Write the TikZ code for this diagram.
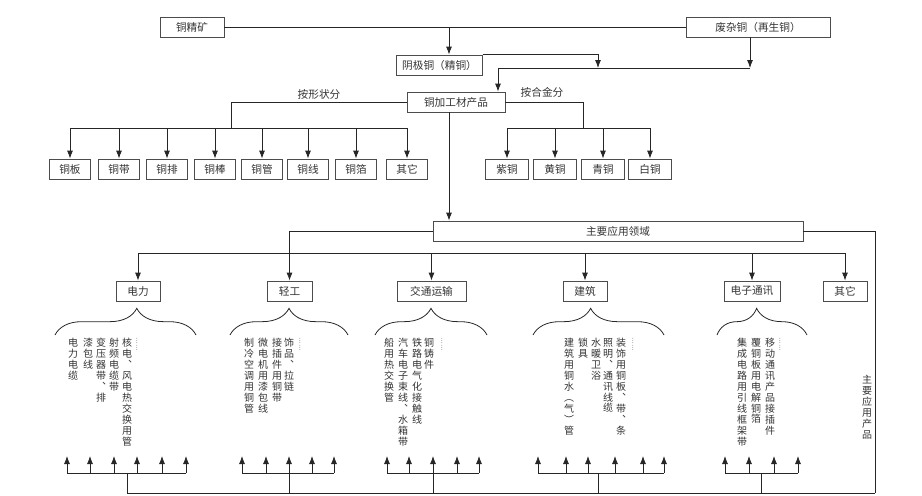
\documentclass[tikz,border=0pt]{standalone}
\usepackage{fontspec}
\setmainfont{Noto Sans CJK SC}
\usetikzlibrary{arrows.meta,decorations.pathreplacing}
\makeatletter
% stack the characters of #1 one under another
\newcommand{\shu}[1]{\edef\shu@l{#1}\def\shu@s{}\expandafter\shu@do\shu@l\relax}
\def\shu@do#1{\ifx#1\relax\else\shu@s#1\def\shu@s{\\}\expandafter\shu@do\fi}
\makeatother

\begin{document}
\begin{tikzpicture}[x=0.75pt,y=-0.75pt,color=black!85,line width=0.6pt,
        every node/.style={font=\fontsize{8}{9}\selectfont, text=black!80},
        kuang/.style={draw=black!70, inner sep=0pt, minimum height=15pt},
        jian/.style={-{Latex[length=6pt,width=4.5pt]}},
        lie/.style={anchor=north, inner sep=0pt, align=center,
            font=\fontsize{7.5}{8.2}\selectfont},
        dian/.style={anchor=north, inner sep=0pt, align=center,
            font=\fontsize{5}{5.2}\selectfont},
        kuohao/.style={decorate, decoration={brace, amplitude=20pt, aspect=#1}}]
    \useasboundingbox (0,0) rectangle (922,496);

    % raw material
    \node[kuang, minimum width=48pt] (kuang) at (192,27) {铜精矿};
    \node[kuang, minimum width=108pt] (feiza) at (758,27) {废杂铜（再生铜）};
    \node[kuang, minimum width=64pt] (yinji) at (439.5,65) {阴极铜（精铜）};
    \node[kuang, minimum width=73.5pt] (jiagong) at (456,102) {铜加工材产品};
    \coordinate (a1) at (449,27);
    \coordinate (hl) at (498,68);
    \coordinate (h2) at (598,68);
    \coordinate (hr) at (750,68);
    \draw (kuang) -- (feiza);
    \draw[jian] (a1) -- (a1 |- yinji.north);
    \draw[jian] (yinji.north east) -| (h2);
    \draw[jian] (feiza.south -| hr) -- (hr);
    \draw (hl) -- (hr);
    \draw[jian] (hl) -- (hl |- jiagong.north);

    % by shape
    \node (xingzhuang) at (319,94) {按形状分};
    \coordinate (s0) at (231,128);
    \draw (jiagong.west) -| (s0);
    \foreach \x/\txt [count=\i] in {70/铜板,119/铜带,167/铜排,215/铜棒,262/铜管,308/铜线,356/铜箔,407/其它}{
        \node[kuang, minimum width=30.75pt] (xz\i) at (\x,169) {\txt};
        \draw[jian] (xz\i.north |- s0) -- (xz\i.north);
    }
    \draw (xz1.north |- s0) -- (xz8.north |- s0);

    % by alloy
    \node (hejin) at (542,92) {按合金分};
    \coordinate (s1) at (583,128);
    \draw (jiagong.east) -| (s1);
    \foreach \x/\txt [count=\i] in {507/紫铜,555/黄铜,603/青铜,650/白铜}{
        \node[kuang, minimum width=32.25pt] (hj\i) at (\x,169) {\txt};
        \draw[jian] (hj\i.north |- s1) -- (hj\i.north);
    }
    \draw (hj1.north |- s1) -- (hj4.north |- s1);

    % fields of use
    \node[kuang, minimum width=277.5pt] (lingyu) at (618,231) {主要应用领域};
    \coordinate (m) at (449,112);
    \draw[jian] (m) -- (m |- lingyu.north);
    \coordinate (s2) at (137,253);
    \foreach \x/\w/\txt [count=\i] in {138/33/电力,289.5/33.75/轻工,431.5/51.75/交通运输,585/33/建筑,752/42/电子通讯,845/33/其它}{
        \node[kuang, minimum width=\w pt] (yy\i) at (\x,291) {\txt};
    }
    \foreach \i in {1,3,4,5,6}
        \draw[jian] (yy\i.north |- s2) -- (yy\i.north);
    \draw (yy1.north |- s2) -- (yy6.north |- s2);
    \draw[jian] (lingyu.west) -| (yy2.north);

    % braces
    \draw[kuohao=0.58] (55,335) -- (196,335);
    \draw[kuohao=0.5] (230,335) -- (348,335);
    \draw[kuohao=0.5] (375,335) -- (487,335);
    \draw[kuohao=0.44] (533,335) -- (664,335);
    \draw[kuohao=0.44] (717,335) -- (807,335);

    % products
    \foreach \x/\txt in {73/电力电缆,88/漆包线,101/变压器带︑排,114/射频电缆带,127/核电︑风电热交换用管,
            249/制冷空调用铜管,263/微电机用漆包线,277/接插件用铜带,289/饰品︑拉链,
            389/船用热交换管,403/汽车电子束线︑水箱带,417/铁路电气化接触线,429/铜铸件,
            569/建筑用铜水︵气︶管,583/锁具,596/水暖卫浴,608/照明︑通讯线缆,621/装饰用铜板︑带︑条,
            742/集成电路用引线框架带,756/覆铜板用电解铜箔,770/移动通讯产品接插件}
        \node[lie] at (\x,338) {\shu{\txt}};
    \foreach \x in {137,300,442,633,780}
        \node[dian] at (\x,338) {\shu{︙︙}};
    \node[lie] (chanpin) at (867,375) {\shu{主要应用产品}};

    % back to the products
    \coordinate (s3) at (875,493);
    \foreach \a/\b/\zhu/\lst [count=\g] in {67/186/127/{67,90,114,137,162,186},
            242/334/289/{242,266,289,312,334},
            387/479/433/{387,409,433,457,479},
            538/664/598/{538,566,588,615,643,664},
            725/798/761/{725,749,774,798}}{
        \coordinate (d\g) at (\zhu,493);
        \foreach \x in \lst
            \draw[jian] (\x,473) -- (\x,456);
        \draw (\a,473) -- (\b,473);
        \draw (\zhu,473) -- (d\g);
    }
    \draw (lingyu.east) -| (s3);
    \draw (d1) -- (s3);
\end{tikzpicture}
\end{document}
